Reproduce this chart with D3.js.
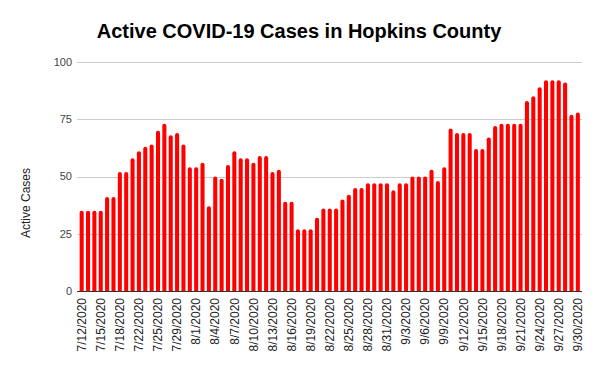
<!DOCTYPE html>
<html>
<head>
<meta charset="utf-8">
<script src="https://cdn.jsdelivr.net/npm/d3@7"></script>
<style>
  html, body { margin: 0; padding: 0; background: #fff; }
  svg { display: block; font-family: Arial, "Liberation Sans", sans-serif; }
</style>
</head>
<body>
<svg id="chart" width="600" height="371"></svg>
<script>
const dates = [
  "7/12/2020","7/13/2020","7/14/2020","7/15/2020","7/16/2020","7/17/2020","7/18/2020",
  "7/20/2020","7/21/2020","7/22/2020","7/23/2020","7/24/2020","7/25/2020",
  "7/27/2020","7/28/2020","7/29/2020","7/30/2020","7/31/2020",
  "8/1/2020","8/2/2020","8/3/2020","8/4/2020","8/5/2020","8/6/2020","8/7/2020","8/8/2020",
  "8/9/2020","8/10/2020","8/11/2020","8/12/2020","8/13/2020","8/14/2020","8/15/2020",
  "8/16/2020","8/17/2020","8/18/2020","8/19/2020","8/20/2020","8/21/2020","8/22/2020",
  "8/23/2020","8/24/2020","8/25/2020","8/26/2020","8/27/2020","8/28/2020","8/29/2020",
  "8/30/2020","8/31/2020",
  "9/1/2020","9/2/2020","9/3/2020","9/4/2020","9/5/2020","9/6/2020","9/7/2020","9/8/2020",
  "9/9/2020","9/10/2020","9/11/2020","9/12/2020","9/13/2020","9/14/2020","9/15/2020",
  "9/16/2020","9/17/2020","9/18/2020","9/19/2020","9/20/2020","9/21/2020","9/22/2020",
  "9/23/2020","9/24/2020","9/25/2020","9/26/2020","9/27/2020","9/28/2020","9/29/2020",
  "9/30/2020"
];
const activeCases = [
  35,35,35,35,41,41,52,
  52,58,61,63,64,70,
  73,68,69,64,54,
  54,56,37,50,49,55,61,58,
  58,56,59,59,52,53,39,
  39,27,27,27,32,36,36,
  36,40,42,45,45,47,47,
  47,47,
  44,47,47,50,50,50,53,48,
  54,71,69,69,69,62,62,
  67,72,73,73,73,73,83,
  85,89,92,92,92,91,77,
  78
];
const tickLabels = [
  "7/12/2020","7/15/2020","7/18/2020","7/22/2020","7/25/2020","7/29/2020","8/1/2020",
  "8/4/2020","8/7/2020","8/10/2020","8/13/2020","8/16/2020","8/19/2020","8/22/2020",
  "8/25/2020","8/28/2020","8/31/2020","9/3/2020","9/6/2020","9/9/2020","9/12/2020",
  "9/15/2020","9/18/2020","9/21/2020","9/24/2020","9/27/2020","9/30/2020"
];
const yTicks = [0, 25, 50, 75, 100];
const titleText = "Active COVID-19 Cases in Hopkins County";
const yTitle = "Active Cases";

(function () {
const svg = d3.select("#chart");
const pL = 77, pR = 582, pT = 62, pB = 291;

const x = d3.scaleBand().domain(dates).range([79, 580.5]).paddingInner(0.36).paddingOuter(0.1);
const y = d3.scaleLinear().domain([0, 100]).range([pB, pT]);

// gridlines
svg.append("g").selectAll("line").data(yTicks.filter(d => d !== 0)).join("line")
  .attr("x1", pL).attr("x2", pR)
  .attr("y1", d => Math.round(y(d)) + 0.5).attr("y2", d => Math.round(y(d)) + 0.5)
  .attr("stroke", "#cccccc").attr("stroke-width", 1);

// y tick labels
svg.append("g").selectAll("text").data(yTicks).join("text")
  .attr("x", 72).attr("y", d => y(d)).attr("dy", "0.35em")
  .attr("text-anchor", "end").attr("font-size", 11).attr("fill", "#444")
  .text(d => d);

// bars with rounded tops
const r = 2;
svg.append("g").selectAll("path").data(dates.map((d, i) => ({d, v: activeCases[i]}))).join("path")
  .attr("fill", "#ff0000")
  .attr("d", o => {
    const x0 = x(o.d), w = x.bandwidth(), yt = y(o.v), yb = y(0);
    const rr = Math.min(r, w / 2);
    return `M${x0},${yb}V${yt + rr}Q${x0},${yt} ${x0 + rr},${yt}H${x0 + w - rr}Q${x0 + w},${yt} ${x0 + w},${yt + rr}V${yb}Z`;
  });

// baseline
svg.append("line").attr("x1", pL).attr("x2", pR)
  .attr("y1", y(0) + 0.5).attr("y2", y(0) + 0.5)
  .attr("stroke", "#333").attr("stroke-width", 1);

// x tick labels
svg.append("g").selectAll("text").data(tickLabels).join("text")
  .attr("transform", d => `translate(${x(d) + x.bandwidth() / 2},298) rotate(-90)`)
  .attr("text-anchor", "end").attr("dy", "0.35em")
  .attr("font-size", 12).attr("fill", "#222")
  .text(d => d);

// y title
svg.append("text")
  .attr("transform", "translate(30,203) rotate(-90)")
  .attr("text-anchor", "middle").attr("font-size", 12).attr("fill", "#222")
  .text(yTitle);

// title
svg.append("text")
  .attr("x", 299).attr("y", 38).attr("text-anchor", "middle")
  .attr("font-size", 20).attr("font-weight", "bold").attr("fill", "#000")
  .text(titleText);
})();
</script>
</body>
</html>
